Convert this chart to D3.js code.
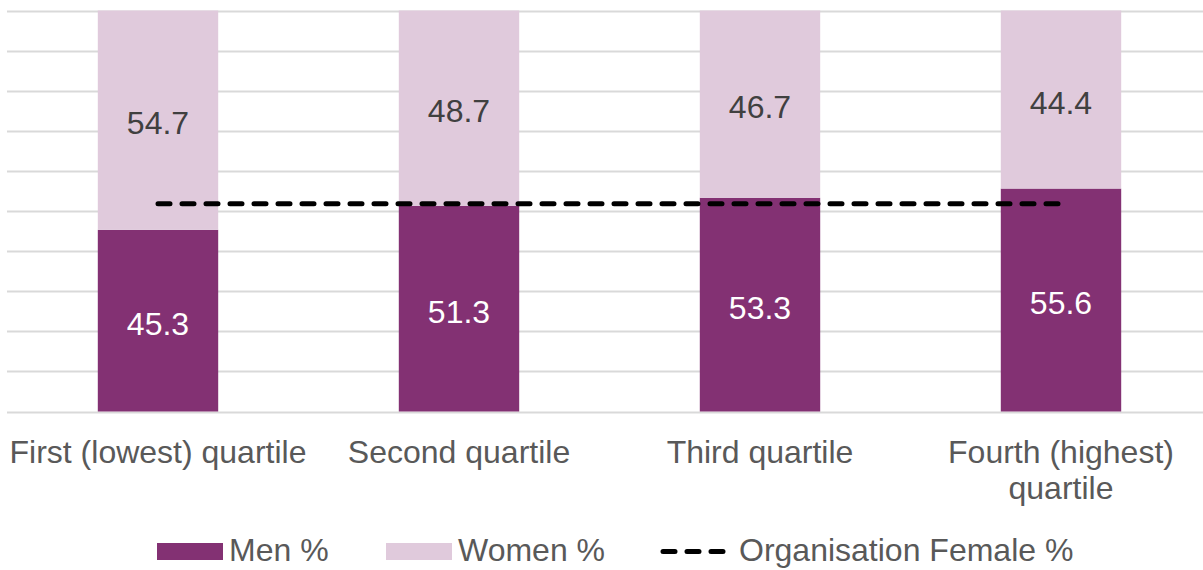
<!DOCTYPE html>
<html>
<head>
<meta charset="utf-8">
<script src="https://cdnjs.cloudflare.com/ajax/libs/d3/7.8.5/d3.min.js"></script>
<style>
  body { margin: 0; background: #fff; }
  svg { display: block; font-family: "Liberation Sans", Arial, Helvetica, sans-serif; }
</style>
</head>
<body>
<script>
// data
const categories = [['First (lowest) quartile'], ['Second quartile'], ['Third quartile'], ['Fourth (highest)', 'quartile']];
const menPct = [45.3, 51.3, 53.3, 55.6];
const womenPct = [54.7, 48.7, 46.7, 44.4];
const orgFemalePct = [51.8, 51.8, 51.8, 51.8];
const yTicks = [0, 10, 20, 30, 40, 50, 60, 70, 80, 90, 100];
const legendItems = ['Men %', 'Women %', 'Organisation Female %'];

const menColor = '#833173';
const womenColor = '#e0cadc';
const fontSize = 32;

const width = 1203, height = 570;

const svg = d3.select('body').append('svg')
    .attr('width', width)
    .attr('height', height);

const x = d3.scaleBand()
    .domain(d3.range(categories.length))
    .range([7.5, 1211.5])
    .paddingInner(0.6)
    .paddingOuter(0.3);

const y = d3.scaleLinear()
    .domain([0, 100])
    .range([411.5, 10.5]);

// gridlines
svg.append('g')
  .selectAll('line')
  .data(yTicks)
  .enter()
  .append('line')
    .attr('x1', 7)
    .attr('x2', width)
    .attr('y1', d => Math.round(y(d)) + 0.5)
    .attr('y2', d => Math.round(y(d)) + 0.5)
    .attr('stroke', '#d9d9d9')
    .attr('stroke-width', 2);

const idx = d3.range(categories.length);

// men (bottom)
svg.append('g')
  .selectAll('rect')
  .data(idx)
  .enter()
  .append('rect')
    .attr('x', i => x(i))
    .attr('width', x.bandwidth())
    .attr('y', i => y(menPct[i]))
    .attr('height', i => y(0) - y(menPct[i]))
    .attr('fill', menColor);

// women (stacked on top)
svg.append('g')
  .selectAll('rect')
  .data(idx)
  .enter()
  .append('rect')
    .attr('x', i => x(i))
    .attr('width', x.bandwidth())
    .attr('y', i => y(menPct[i] + womenPct[i]))
    .attr('height', i => y(menPct[i]) - y(menPct[i] + womenPct[i]))
    .attr('fill', womenColor);

// value labels
svg.append('g')
  .selectAll('text')
  .data(idx)
  .enter()
  .append('text')
    .attr('x', i => x(i) + x.bandwidth() / 2)
    .attr('y', i => (y(0) + y(menPct[i])) / 2 + 14)
    .attr('text-anchor', 'middle')
    .attr('font-size', fontSize)
    .attr('fill', '#ffffff')
    .text(i => menPct[i].toFixed(1));

svg.append('g')
  .selectAll('text')
  .data(idx)
  .enter()
  .append('text')
    .attr('x', i => x(i) + x.bandwidth() / 2)
    .attr('y', i => (y(menPct[i]) + y(menPct[i] + womenPct[i])) / 2 + 14)
    .attr('text-anchor', 'middle')
    .attr('font-size', fontSize)
    .attr('fill', '#404040')
    .text(i => womenPct[i].toFixed(1));

// organisation female % dashed line
const line = d3.line()
    .x((d, i) => x(i) + x.bandwidth() / 2)
    .y(d => y(d));

svg.append('path')
    .datum(orgFemalePct)
    .attr('d', line)
    .attr('fill', 'none')
    .attr('stroke', '#000')
    .attr('stroke-width', 5)
    .attr('stroke-linecap', 'round')
    .attr('stroke-dasharray', '12,12');

// category labels
const catLabels = svg.append('g')
  .selectAll('text')
  .data(idx)
  .enter()
  .append('text')
    .attr('x', i => x(i) + x.bandwidth() / 2)
    .attr('y', 463)
    .attr('text-anchor', 'middle')
    .attr('font-size', fontSize)
    .attr('fill', '#595959');

catLabels.selectAll('tspan')
    .data(i => categories[i])
    .enter()
    .append('tspan')
    .attr('x', function() { return d3.select(this.parentNode).attr('x'); })
    .attr('dy', (d, j) => j === 0 ? 0 : 36)
    .text(d => d);

// legend
const legend = svg.append('g');
const legendX = [157, 386, 660];

legendItems.forEach((name, i) => {
  const g = legend.append('g').attr('transform', `translate(${legendX[i]},0)`);
  if (i < 2) {
    g.append('rect')
        .attr('x', 0)
        .attr('y', 543)
        .attr('width', 66)
        .attr('height', 17)
        .attr('fill', i === 0 ? menColor : womenColor);
  } else {
    g.append('line')
        .attr('x1', 3)
        .attr('x2', 66)
        .attr('y1', 551.5)
        .attr('y2', 551.5)
        .attr('stroke', '#000')
        .attr('stroke-width', 5)
        .attr('stroke-linecap', 'round')
        .attr('stroke-dasharray', '12,12');
  }
  g.append('text')
      .attr('x', i < 2 ? 72 : 79)
      .attr('y', 561)
      .attr('font-size', fontSize)
      .attr('fill', '#595959')
      .text(name);
});
</script>
</body>
</html>
